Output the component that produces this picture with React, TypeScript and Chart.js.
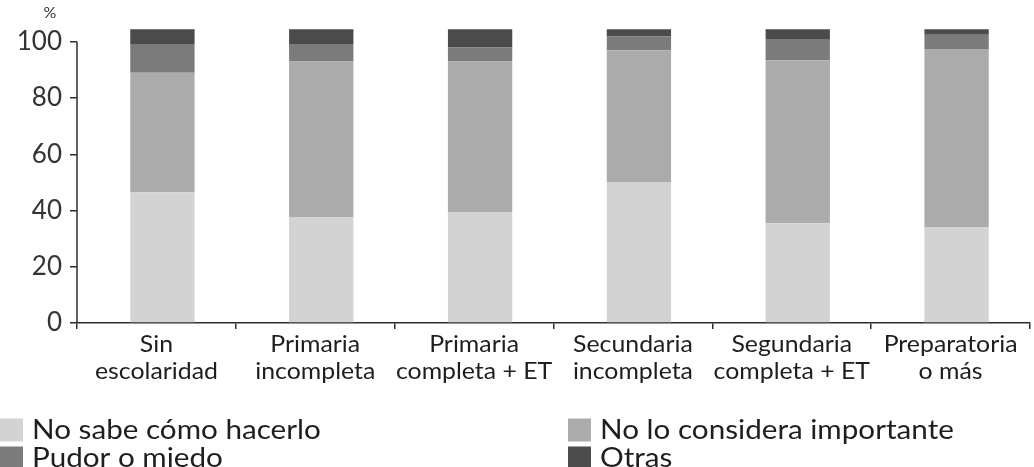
import { useEffect, useRef } from 'react';
import { Chart, registerables } from 'chart.js';

Chart.register(...registerables);

// Education level categories (two-line labels)
const categories: string[][] = [
  ['Sin', 'escolaridad'],
  ['Primaria', 'incompleta'],
  ['Primaria', 'completa + ET'],
  ['Secundaria', 'incompleta'],
  ['Segundaria', 'completa + ET'],
  ['Preparatoria', 'o más'],
];

// Series values (%)
const noSabe = [46.5, 37.5, 39.5, 50, 35.5, 34];
const noImportante = [42.5, 55.5, 53.5, 47, 58, 63.5];
const pudor = [10, 6, 5, 5, 7.5, 5];
const otras = [5.5, 5.5, 6.5, 2.5, 3.5, 2];

const seriesNames = ['No sabe cómo hacerlo', 'No lo considera importante', 'Pudor o miedo', 'Otras'];
const seriesColors = ['#d3d3d3', '#ababab', '#7b7b7b', '#4b4b4b'];

const yTicks = [0, 20, 40, 60, 80, 100];

const FONT = 'Lato, "DejaVu Sans", sans-serif';

// draws text with a horizontal stretch around its anchor point
function stretchedText(ctx: CanvasRenderingContext2D, text: string, x: number, y: number, sx: number) {
  ctx.save();
  ctx.translate(x, y);
  ctx.scale(sx, 1);
  ctx.fillText(text, 0, 0);
  ctx.restore();
}

const decorPlugin = {
  id: 'decor',
  beforeDatasetsDraw(chart: any) {
    chart.ctx.save();
    chart.ctx.translate(6, 0);
  },
  afterDatasetsDraw(chart: any) {
    chart.ctx.restore();
  },
  afterDraw(chart: any) {
    const { ctx, chartArea, scales } = chart;
    const y = scales.y;
    const x = scales.x;
    ctx.save();
    // vertical axis line from 0 to 100
    ctx.strokeStyle = '#2e2e2e';
    ctx.lineWidth = 1.5;
    ctx.beginPath();
    ctx.moveTo(chartArea.left, y.getPixelForValue(0));
    ctx.lineTo(chartArea.left, y.getPixelForValue(yTicks[yTicks.length - 1]));
    ctx.stroke();

    // unit label
    ctx.fillStyle = '#333';
    ctx.font = `16px ${FONT}`;
    ctx.textAlign = 'center';
    ctx.textBaseline = 'alphabetic';
    ctx.fillText('%', 50, 18);

    // category labels, two lines each
    ctx.fillStyle = '#1e1e1e';
    ctx.font = `23px ${FONT}`;
    ctx.textAlign = 'center';
    ctx.textBaseline = 'middle';
    categories.forEach((lines, i) => {
      const cx = x.getPixelForValue(i);
      lines.forEach((line, j) => {
        stretchedText(ctx, line, cx, x.top + 22 + j * 27, 1.08);
      });
    });

    // legend, two columns
    const cols = [0, 568];
    const rows = [430, 458];
    const size = 23;
    ctx.font = `26px ${FONT}`;
    ctx.textAlign = 'left';
    ctx.textBaseline = 'middle';
    seriesNames.forEach((name, i) => {
      const cx = cols[i % 2];
      const cy = rows[Math.floor(i / 2)];
      ctx.fillStyle = seriesColors[i];
      ctx.fillRect(cx, cy - size / 2, size, size);
      ctx.fillStyle = '#1e1e1e';
      stretchedText(ctx, name, cx + 32, cy + 1, 1.14);
    });
    ctx.restore();
  },
};

export default function App() {
  const canvasRef = useRef<HTMLCanvasElement | null>(null);

  useEffect(() => {
    document.body.style.margin = '0';
    const canvas = canvasRef.current;
    if (!canvas) return;
    const seriesData = [noSabe, noImportante, pudor, otras];
    const chart = new Chart(canvas, {
      type: 'bar',
      data: {
        labels: categories.map((c) => c.join(' ')),
        datasets: seriesData.map((d, i) => ({
          label: seriesNames[i],
          data: d,
          backgroundColor: seriesColors[i],
          borderWidth: 0,
          categoryPercentage: 1,
          barPercentage: 0.405,
        })),
      },
      options: {
        animation: false,
        responsive: true,
        maintainAspectRatio: false,
        layout: { padding: { left: 0, right: 4, top: 25, bottom: 84 } },
        plugins: {
          legend: { display: false },
          tooltip: { enabled: false },
        },
        scales: {
          x: {
            stacked: true,
            afterFit: (s: any) => {
              s.height = 60;
            },
            border: { display: true, color: '#2e2e2e', width: 1.5 },
            grid: {
              offset: true,
              drawOnChartArea: false,
              drawTicks: true,
              tickLength: 6,
              color: '#2e2e2e',
              lineWidth: 1.5,
            },
            ticks: { display: false },
          },
          y: {
            stacked: true,
            min: 0,
            max: 106,
            afterFit: (s: any) => {
              s.width = 77;
            },
            afterBuildTicks: (s: any) => {
              s.ticks = yTicks.map((v) => ({ value: v }));
            },
            border: { display: false },
            grid: {
              drawOnChartArea: false,
              drawTicks: true,
              tickLength: 7,
              color: '#2e2e2e',
              lineWidth: 1.5,
            },
            ticks: {
              color: '#333',
              font: { family: FONT, size: 26 },
              padding: 8,
            },
          },
        },
      },
      plugins: [decorPlugin],
    });
    return () => chart.destroy();
  }, []);

  return (
    <div style={{ position: 'fixed', left: 0, top: 0, width: 1034, height: 467, background: '#fff' }}>
      <canvas ref={canvasRef} />
    </div>
  );
}
